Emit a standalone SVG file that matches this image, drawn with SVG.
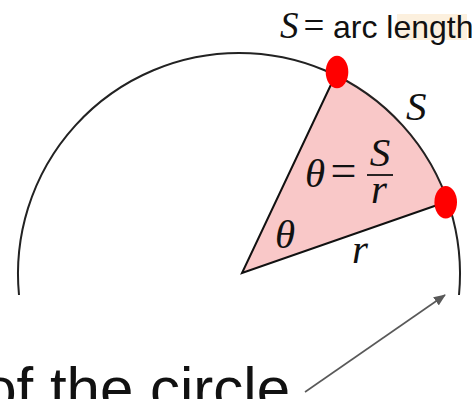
<svg xmlns="http://www.w3.org/2000/svg" width="472" height="399" viewBox="0 0 472 399">
<defs>
<style>
.math{font-family:"Liberation Serif","Times New Roman",serif;font-style:italic;font-size:41px;fill:#111}
.up{font-family:"Liberation Serif","Times New Roman",serif;fill:#111}
.sans{font-family:"Liberation Sans",Arial,sans-serif;fill:#111}
.dot{fill:#ff0000}
</style>
<marker id="ah" markerWidth="12" markerHeight="10" refX="11" refY="5" orient="auto" markerUnits="userSpaceOnUse">
<path d="M0,0 L12,5 L0,10 Z" fill="#595959"/>
</marker>
</defs>
<rect width="472" height="399" fill="#ffffff"/>
<g id="sector">
<path d="M 242 273 L 336 74 A 221 221 0 0 1 448 201 Z" fill="#f9c8c8" stroke="none"/>
<path d="M 336 74 L 242 273 L 446 202" fill="none" stroke="#111" stroke-width="2" stroke-linejoin="miter"/>
</g>
<g id="circle">
<path d="M 19 295 A 221 221 0 1 1 459 295" fill="none" stroke="#222" stroke-width="2"/>
</g>
<g id="dots">
<ellipse class="dot" cx="337" cy="72" rx="11.3" ry="16.2"/>
<ellipse class="dot" cx="445.7" cy="202.3" rx="11.3" ry="16.2"/>
</g>
<g id="title">
<rect x="397" y="14" width="70" height="26" fill="#fcf0de"/>
<text class="math" x="280" y="38" style="font-size:37px">S</text>
<text class="up" x="314" y="38" font-size="37" text-anchor="middle">=</text>
<text class="sans" x="333" y="38" font-size="32">arc length</text>
</g>
<g id="labels">
<text class="math" x="406" y="120">S</text>
<text class="math" x="305" y="187">θ</text>
<text class="up" x="343.5" y="186" font-size="46" text-anchor="middle">=</text>
<text class="math" x="380" y="166" text-anchor="middle">S</text>
<line x1="367" y1="175" x2="393" y2="175" stroke="#111" stroke-width="1.8"/>
<text class="math" x="379" y="203" text-anchor="middle">r</text>
<text class="math" x="285" y="248" text-anchor="middle">θ</text>
<text class="math" x="360" y="263" text-anchor="middle">r</text>
</g>
<g id="caption">
<text class="sans" x="290" y="409" font-size="60" text-anchor="end">of the circle</text>
</g>
<g id="connectors">
<path d="M 305 392 L 445 295" fill="none" stroke="#595959" stroke-width="1.6" marker-end="url(#ah)"/>
</g>
</svg>
